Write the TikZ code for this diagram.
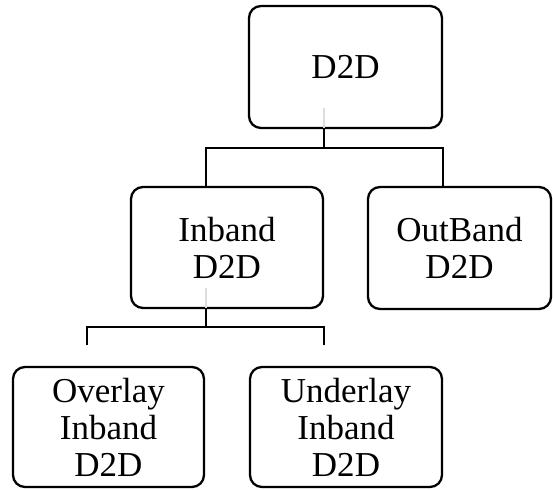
\documentclass[tikz,border=0pt]{standalone}
\usepackage{fontspec}
\setmainfont{Liberation Serif}
\begin{document}
\begin{tikzpicture}[x=1pt,y=-1pt,
  box/.style={draw=black, line width=2.3pt, rounded corners=12pt, fill=white,
    inner sep=0pt, outer sep=0pt, align=center,
    font=\fontsize{35}{37}\selectfont},
  link/.style={draw=black, line width=2.3pt},
  ghost/.style={draw=black!13, line width=2.3pt}]
\useasboundingbox (0,0) rectangle (553,489);

% boxes of the hierarchy
\node[box, minimum width=193pt, minimum height=122pt] (d2d) at (345.5,67) {D2D};
\node[box, minimum width=192pt, minimum height=121pt] (inband) at (227,247.5) {Inband\\D2D};
\node[box, minimum width=183pt, minimum height=122pt] (outband) at (459.5,248) {OutBand\\D2D};
\node[box, minimum width=191pt, minimum height=120pt] (overlay) at (108.5,427) {Overlay\\Inband\\D2D};
\node[box, minimum width=192pt, minimum height=120pt] (underlay) at (346,427) {Underlay\\Inband\\D2D};

% junction points of the elbow connectors
\coordinate (j1) at (324,148);
\coordinate (a1) at (206,148);
\coordinate (b1) at (443,148);
\coordinate (j2) at (206,327);
\coordinate (a2) at (87,327);
\coordinate (b2) at (324,327);

% faint stubs of the connectors inside the parent boxes
\draw[ghost] (j1 |- d2d.south) -- ++(0,-20);
\draw[ghost] (j2 |- inband.south) -- ++(0,-20);

% first level
\draw[link] (j1 |- d2d.south) -- (j1);
\draw[link] (a1 |- inband.north) -- (a1) -- (b1) -- (b1 |- outband.north);

% second level
\draw[link] (j2 |- inband.south) -- (j2);
\draw[link] (a2 |- 0,345) -- (a2) -- (b2) -- (b2 |- 0,345);
\end{tikzpicture}
\end{document}
